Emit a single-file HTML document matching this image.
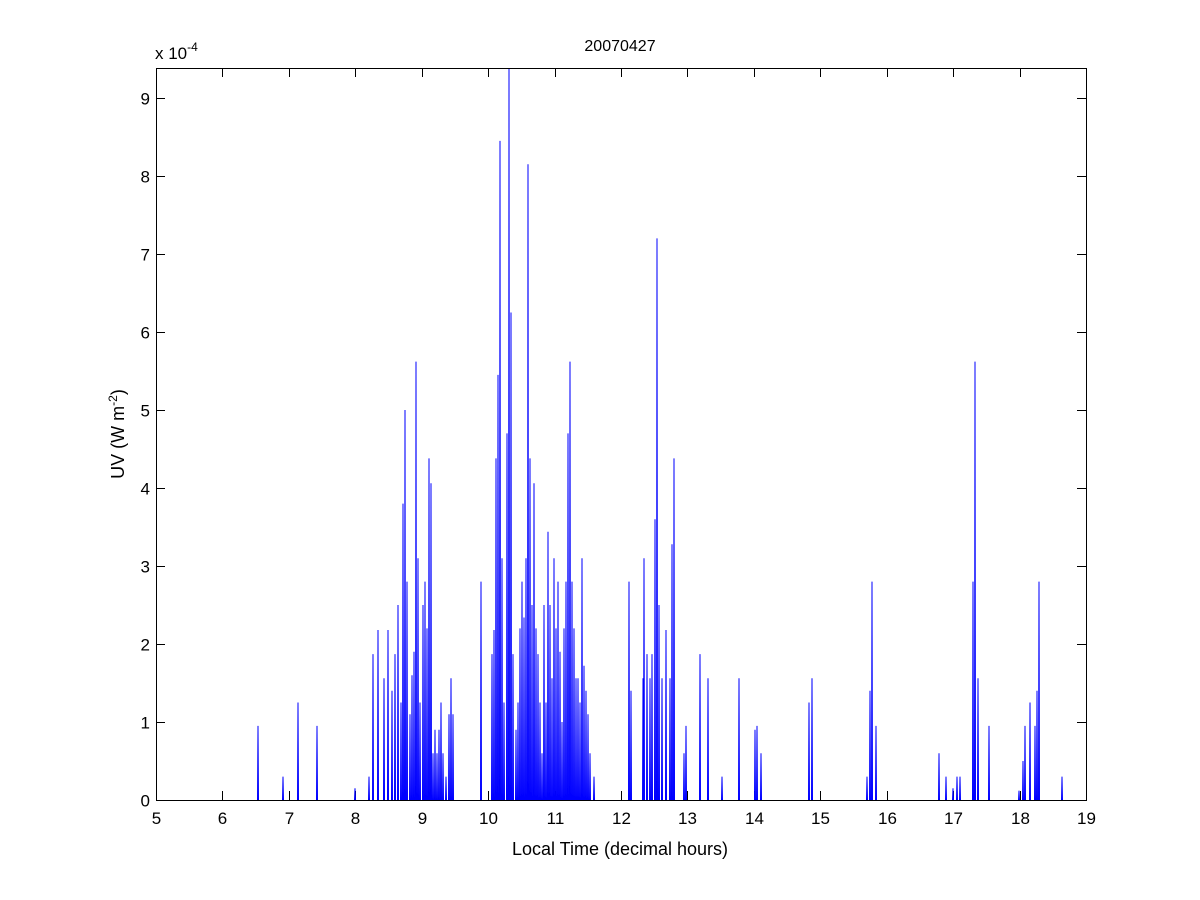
<!DOCTYPE html>
<html><head><meta charset="utf-8"><style>
html,body{margin:0;padding:0;background:#fff;}
svg{display:block;font-family:"Liberation Sans",Arial,sans-serif;}
</style></head><body>
<svg id="s" width="1200" height="900" xmlns="http://www.w3.org/2000/svg">
<rect width="1200" height="900" fill="#fff"/>
<g id="ticks" stroke="#000" stroke-width="1" shape-rendering="crispEdges"></g>
<path id="data" fill="none" stroke="#0000ff" stroke-width="1"/>
<rect x="156.5" y="68.5" width="930" height="732" fill="none" stroke="#000" stroke-width="1" shape-rendering="crispEdges"/>
<g id="labels" font-size="17" fill="#000"></g>
<text x="620" y="51" font-size="16" text-anchor="middle">20070427</text>
<text x="620" y="855" font-size="18" text-anchor="middle">Local Time (decimal hours)</text>
<text x="155" y="59" font-size="17">x 10<tspan dy="-8" font-size="12">-4</tspan></text>
<text transform="translate(124,434) rotate(-90)" font-size="18" text-anchor="middle">UV (W m<tspan dy="-7" font-size="12">-2</tspan><tspan dy="7">)</tspan></text>
</svg>
<script>
var NS="http://www.w3.org/2000/svg";
var t=document.getElementById('ticks'),L=document.getElementById('labels');
function line(x1,y1,x2,y2){var l=document.createElementNS(NS,'line');l.setAttribute('x1',x1);l.setAttribute('y1',y1);l.setAttribute('x2',x2);l.setAttribute('y2',y2);t.appendChild(l);}
function txt(x,y,s,a){var e=document.createElementNS(NS,'text');e.setAttribute('x',x);e.setAttribute('y',y);e.setAttribute('text-anchor',a);e.textContent=s;L.appendChild(e);}
for(var h=5;h<=19;h++){var x=Math.round(156+(h-5)*930/14)+.5;line(x,800,x,791);line(x,68,x,77);txt(x,824,String(h),'middle');}
for(var k=0;k<=9;k++){var y=Math.round(800-k*78)+.5;line(156,y,165,y);line(1086,y,1077,y);txt(150,y+6,String(k),'end');}
var d=[[258,.95],[283,.3],[298,1.25],[317,.95],[355,.15],[369,.3],[373,1.87],[378,2.18],[384,1.56],[388,2.18],[392,1.4],[395,1.87],[398,2.5],[401,1.25],[403,3.8],[405,5.0],[407,2.8],[410,1.1],[412,1.6],[414,1.9],[416,5.62],[418,3.1],[420,1.25],[423,2.5],[425,2.8],[427,2.2],[429,4.38],[431,4.06],[433,.6],[435,.9],[437,.6],[439,.9],[441,1.25],[443,.6],[446,.3],[449,1.1],[451,1.56],[453,1.1],[481,2.8],[492,1.87],[494,2.18],[496,4.38],[498,5.45],[500,8.45],[502,3.1],[504,1.25],[507,4.7],[509,9.4],[511,6.25],[513,1.87],[516,.9],[518,1.25],[520,2.2],[522,2.8],[524,2.34],[526,3.1],[528,8.15],[530,4.38],[532,2.5],[534,4.06],[536,2.2],[538,1.87],[540,1.25],[542,.6],[544,2.5],[546,1.25],[548,3.44],[550,2.5],[552,1.56],[554,3.1],[556,2.2],[558,2.8],[560,1.9],[562,1.0],[564,2.2],[566,2.8],[568,4.7],[570,5.62],[572,2.8],[574,2.2],[576,1.56],[578,1.56],[580,1.25],[582,3.1],[584,1.72],[586,1.4],[588,1.1],[590,.6],[594,.3],[629,2.8],[631,1.4],[643,1.56],[644,3.1],[647,1.87],[650,1.56],[652,1.87],[655,3.6],[657,7.2],[659,2.5],[662,1.56],[666,2.18],[670,1.56],[672,3.28],[674,4.38],[684,.6],[686,.95],[700,1.87],[708,1.56],[722,.3],[739,1.56],[755,.9],[757,.95],[761,.6],[809,1.25],[812,1.56],[867,.3],[870,1.4],[872,2.8],[876,.95],[939,.6],[946,.3],[953,.15],[957,.3],[960,.3],[973,2.8],[975,5.62],[978,1.56],[989,.95],[1019,.12],[1023,.5],[1025,.95],[1030,1.25],[1035,.95],[1037,1.4],[1039,2.8],[1062,.3]];
var p='';d.forEach(function(q){var y=Math.max(68,800-q[1]*78);p+='M'+(q[0]-.5)+' 800L'+q[0]+' '+y.toFixed(1)+'L'+(q[0]+.5)+' 800';});
document.getElementById('data').setAttribute('d',p);
</script>
</body></html>
